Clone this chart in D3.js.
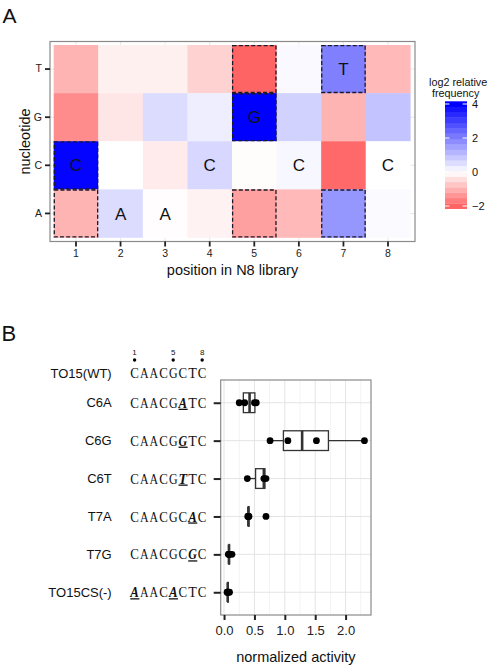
<!DOCTYPE html>
<html><head><meta charset="utf-8">
<script src="https://cdn.jsdelivr.net/npm/d3@7"></script>
<style>body{margin:0;background:#fff;} svg{display:block;font-family:"Liberation Sans",Arial,sans-serif;}</style>
</head><body><svg id="c" width="496" height="671"></svg>
<script>
// ---------- Panel A data ----------
const positions = ["1","2","3","4","5","6","7","8"];
const nucleotides = ["T","G","C","A"];
const freqT = [-0.97,-0.2,-0.2,-0.58,-2.0,0.1,2.0,-0.9];
const freqG = [-1.49,-0.32,0.55,0.27,4.0,0.7,-0.97,0.94];
const freqC = [3.95,0,-0.26,0.63,-0.04,0.12,-1.94,0];
const freqA = [-0.97,0.55,-0.03,-0.17,-1.23,-0.9,1.65,0.08];
const wildType = "CAACGCTC";
const highlighted = [["1","C"],["1","A"],["5","T"],["5","G"],["5","A"],["7","T"],["7","A"]];
const legendTicks = [4,2,0,-2];

// ---------- Panel B data ----------
const variants = ["C6A","C6G","C6T","T7A","T7G","TO15CS(-)"];
const sequences = ["CAACGATC","CAACGGTC","CAACGTTC","CAACGCAC","CAACGCGC","AAACACTC"];
const mutatedIdx = [[5],[5],[5],[6],[6],[0,4]];
const actC6A = [0.25,0.34,0.50,0.53];
const actC6G = [0.757,1.05,1.52,2.31];
const actC6T = [0.383,0.655,0.69];
const actT7A = [0.39,0.40,0.40,0.41,0.69];
const actT7G = [0.07,0.08,0.08,0.09,0.13];
const actCS  = [0.05,0.06,0.06,0.07,0.09];
const activityTicks = [0,0.5,1,1.5,2];
const seqMarks = [1,5,8];

const svg = d3.select("#c");
const TXT = "#222";

// ================= PANEL A =================
const freqRows = {T:freqT,G:freqG,C:freqC,A:freqA};
const cells = [];
nucleotides.forEach(n => positions.forEach((p,i) => cells.push({pos:p, nuc:n, v:freqRows[n][i]})));
const ext = d3.extent(cells, d => d.v);

const color = d3.scaleLinear().domain([-3.3,0,4]).range(["#ff0000","#ffffff","#0000ff"]).interpolate(d3.interpolateRgb).clamp(true);

const ax = d3.scaleBand().domain(positions).range([53.7,410.3]);
const ay = d3.scaleBand().domain(nucleotides).range([45,237.5]);
const pA = {x0:50,x1:415,y0:41.5,y1:241.5};

const gA = svg.append("g");
gA.append("rect").attr("x",pA.x0).attr("y",pA.y0).attr("width",pA.x1-pA.x0).attr("height",pA.y1-pA.y0).attr("fill","#fff");
// grid
gA.selectAll(".gx").data(positions).join("line").attr("x1",d=>ax(d)+ax.bandwidth()/2).attr("x2",d=>ax(d)+ax.bandwidth()/2)
  .attr("y1",pA.y0).attr("y2",pA.y1).attr("stroke","#e8e8e8");
gA.selectAll(".gy").data(nucleotides).join("line").attr("y1",d=>ay(d)+ay.bandwidth()/2).attr("y2",d=>ay(d)+ay.bandwidth()/2)
  .attr("x1",pA.x0).attr("x2",pA.x1).attr("stroke","#e8e8e8");
// tiles
gA.selectAll(".tile").data(cells).join("rect")
  .attr("x",d=>ax(d.pos)).attr("y",d=>ay(d.nuc))
  .attr("width",ax.bandwidth()+0.3).attr("height",ay.bandwidth()+0.3)
  .attr("fill",d=>color(d.v));
// dashed highlights
gA.selectAll(".hl").data(highlighted).join("rect")
  .attr("x",d=>ax(d[0])+0.6).attr("y",d=>ay(d[1])+0.6)
  .attr("width",ax.bandwidth()-1.2).attr("height",ay.bandwidth()-1.2)
  .attr("fill","none").attr("stroke","#1a1a2a").attr("stroke-width",1.3).attr("stroke-dasharray","4,2.2");
// wild type letters
gA.selectAll(".wt").data(wildType.split("").map((c,i)=>({pos:positions[i],nuc:c}))).join("text")
  .attr("x",d=>ax(d.pos)+ax.bandwidth()/2).attr("y",d=>ay(d.nuc)+ay.bandwidth()/2).attr("dy","0.36em")
  .attr("text-anchor","middle").attr("font-size",17).attr("fill","#111").text(d=>d.nuc);
// border
gA.append("rect").attr("x",pA.x0).attr("y",pA.y0).attr("width",pA.x1-pA.x0).attr("height",pA.y1-pA.y0)
  .attr("fill","none").attr("stroke","#8a8a8a").attr("stroke-width",1.2);
// axes
const axB = gA.append("g").attr("transform",`translate(0,${pA.y1})`)
  .call(d3.axisBottom(ax).tickSize(5).tickPadding(3));
const ayL = gA.append("g").attr("transform",`translate(${pA.x0},0)`)
  .call(d3.axisLeft(ay).tickSize(5).tickPadding(3));
[axB,ayL].forEach(g=>{
  g.select(".domain").remove();
  g.selectAll(".tick line").attr("stroke","#222").attr("stroke-width",1.8);
  g.selectAll(".tick text").attr("font-size",10.5).attr("fill",TXT).attr("font-family","Liberation Sans, Arial, sans-serif");
});
gA.append("text").attr("x",(pA.x0+pA.x1)/2).attr("y",275).attr("text-anchor","middle").attr("font-size",14.5).attr("fill","#111").text("position in N8 library");
gA.append("text").attr("transform",`translate(30,${(pA.y0+pA.y1)/2}) rotate(-90)`).attr("text-anchor","middle").attr("font-size",14.5).attr("fill","#111").text("nucleotide");
svg.append("text").attr("x",2.5).attr("y",22.7).attr("font-size",21).attr("fill","#111").text("A");

// legend
const ly = d3.scaleLinear().domain(ext).range([206,104]);
const nbin = 20;
const binStep = (ext[1]-ext[0])/(nbin-1);
const bins = d3.range(nbin).map(i => ext[0] + i*binStep);
const lg = svg.append("g");
lg.selectAll(".bin").data(bins).join("rect")
  .attr("x",445).attr("width",22)
  .attr("y",d=>ly(d+binStep/2)).attr("height",d=>ly(d-binStep/2)-ly(d+binStep/2)+0.3)
  .attr("fill",d=>color(d));
legendTicks.forEach(t=>{
  lg.append("line").attr("x1",445).attr("x2",449.4).attr("y1",ly(t)).attr("y2",ly(t)).attr("stroke","#fff").attr("stroke-width",1);
  lg.append("line").attr("x1",462.6).attr("x2",467).attr("y1",ly(t)).attr("y2",ly(t)).attr("stroke","#fff").attr("stroke-width",1);
});
lg.selectAll(".lt").data(legendTicks).join("text").attr("x",472).attr("y",d=>ly(d)).attr("dy","0.36em")
  .attr("font-size",11).attr("fill","#111").text(d=>d<0?"\u2212"+Math.abs(d):d);
lg.append("text").attr("x",429).attr("y",86).attr("font-size",10.8).attr("fill","#111").text("log2 relative");
lg.append("text").attr("x",432).attr("y",96.5).attr("font-size",10.8).attr("fill","#111").text("frequency");

// ================= PANEL B =================
const actData = [actC6A,actC6G,actC6T,actT7A,actT7G,actCS];
const pB = {x0:220.7,x1:371,y0:380,y1:615};
const bx = d3.scaleLinear().domain([-0.055,2.418]).range([pB.x0,pB.x1]);
const by = d3.scalePoint().domain(variants).range([pB.y0,pB.y1]).padding(0.6);
const gB = svg.append("g");
gB.append("rect").attr("x",pB.x0).attr("y",pB.y0).attr("width",pB.x1-pB.x0).attr("height",pB.y1-pB.y0).attr("fill","#fff");
const minor = d3.range(0.25,2.4,0.5);
gB.selectAll(".mg").data(minor).join("line").attr("x1",d=>bx(d)).attr("x2",d=>bx(d)).attr("y1",pB.y0).attr("y2",pB.y1).attr("stroke","#f3f3f3").attr("stroke-width",1);
gB.selectAll(".Mg").data(activityTicks).join("line").attr("x1",d=>bx(d)).attr("x2",d=>bx(d)).attr("y1",pB.y0).attr("y2",pB.y1).attr("stroke","#e4e4e4").attr("stroke-width",1);
gB.selectAll(".hg").data(variants).join("line").attr("y1",d=>by(d)).attr("y2",d=>by(d)).attr("x1",pB.x0).attr("x2",pB.x1).attr("stroke","#e4e4e4").attr("stroke-width",1);

const bh = by.step()*0.52;
variants.forEach((v,i)=>{
  const s = actData[i].slice().sort(d3.ascending);
  const q1 = d3.quantileSorted(s,0.25), med = d3.quantileSorted(s,0.5), q3 = d3.quantileSorted(s,0.75);
  const iqr = q3-q1;
  const lo = d3.min(s.filter(d=>d>=q1-1.5*iqr)), hi = d3.max(s.filter(d=>d<=q3+1.5*iqr));
  const cy = by(v);
  const g = gB.append("g").attr("stroke","#333").attr("fill","none");
  g.append("line").attr("x1",bx(lo)).attr("x2",bx(q1)).attr("y1",cy).attr("y2",cy).attr("stroke-width",1.3);
  g.append("line").attr("x1",bx(q3)).attr("x2",bx(hi)).attr("y1",cy).attr("y2",cy).attr("stroke-width",1.3);
  g.append("rect").attr("x",bx(q1)).attr("y",cy-bh/2).attr("width",Math.max(0,bx(q3)-bx(q1))).attr("height",bh).attr("fill","#fff").attr("stroke-width",1.3);
  g.append("line").attr("x1",bx(med)).attr("x2",bx(med)).attr("y1",cy-bh/2).attr("y2",cy+bh/2).attr("stroke-width",2.6);
  gB.selectAll(null).data(s).join("circle").attr("cx",d=>bx(d)).attr("cy",cy).attr("r",3.4).attr("fill","#000");
});
gB.append("rect").attr("x",pB.x0).attr("y",pB.y0).attr("width",pB.x1-pB.x0).attr("height",pB.y1-pB.y0)
  .attr("fill","none").attr("stroke","#8a8a8a").attr("stroke-width",1.2);

const bxa = gB.append("g").attr("transform",`translate(0,${pB.y1})`)
  .call(d3.axisBottom(bx).tickValues(activityTicks).tickFormat(d3.format(".1f")).tickSize(5).tickPadding(6));
const bya = gB.append("g").attr("transform",`translate(${pB.x0},0)`)
  .call(d3.axisLeft(by).tickSize(7).tickFormat(""));
[bxa,bya].forEach(g=>{
  g.select(".domain").remove();
  g.selectAll(".tick line").attr("stroke","#222").attr("stroke-width",2);
  g.selectAll(".tick text").attr("font-size",13).attr("fill",TXT).attr("font-family","Liberation Sans, Arial, sans-serif");
});
gB.append("text").attr("x",(pB.x0+pB.x1)/2).attr("y",662).attr("text-anchor","middle").attr("font-size",14.5).attr("fill","#111").text("normalized activity");
svg.append("text").attr("x",1.5).attr("y",341).attr("font-size",22).attr("fill","#111").text("B");

// sequence labels
const charX = i => 130.3 + i*9.65;
const charW = 8.6;
function drawSeq(seq, cy, muts){
  seq.split("").forEach((c,i)=>{
    const m = muts.includes(i);
    svg.append("text").attr("x",charX(i)).attr("y",cy).attr("dy","0.35em")
      .attr("font-family","Liberation Serif, Times New Roman, serif").attr("font-size",14.5)
      .attr("textLength",charW).attr("lengthAdjust","spacingAndGlyphs")
      .attr("font-weight",m?"bold":"normal").attr("font-style",m?"italic":"normal")
      .attr("fill","#111").text(c);
    if(m) svg.append("line").attr("x1",charX(i)).attr("x2",charX(i)+charW+0.5).attr("y1",cy+6.6).attr("y2",cy+6.6).attr("stroke","#111").attr("stroke-width",1.3);
  });
}
const wtY = 373.3;
svg.append("text").attr("x",111.7).attr("y",wtY).attr("dy","0.35em").attr("text-anchor","end").attr("font-size",13).attr("fill","#111").text("TO15(WT)");
drawSeq(wildType, wtY, []);
seqMarks.forEach(k=>{
  const cx = charX(k-1)+charW/2;
  svg.append("circle").attr("cx",cx).attr("cy",360).attr("r",1.7).attr("fill","#000");
  svg.append("text").attr("x",cx).attr("y",352).attr("dy","0.35em").attr("text-anchor","middle").attr("font-size",8).attr("fill","#111").text(k);
});
variants.forEach((v,i)=>{
  svg.append("text").attr("x",111.7).attr("y",by(v)).attr("dy","0.35em").attr("text-anchor","end").attr("font-size",13).attr("fill","#111").text(v);
  drawSeq(sequences[i], by(v), mutatedIdx[i]);
});
</script></body></html>
